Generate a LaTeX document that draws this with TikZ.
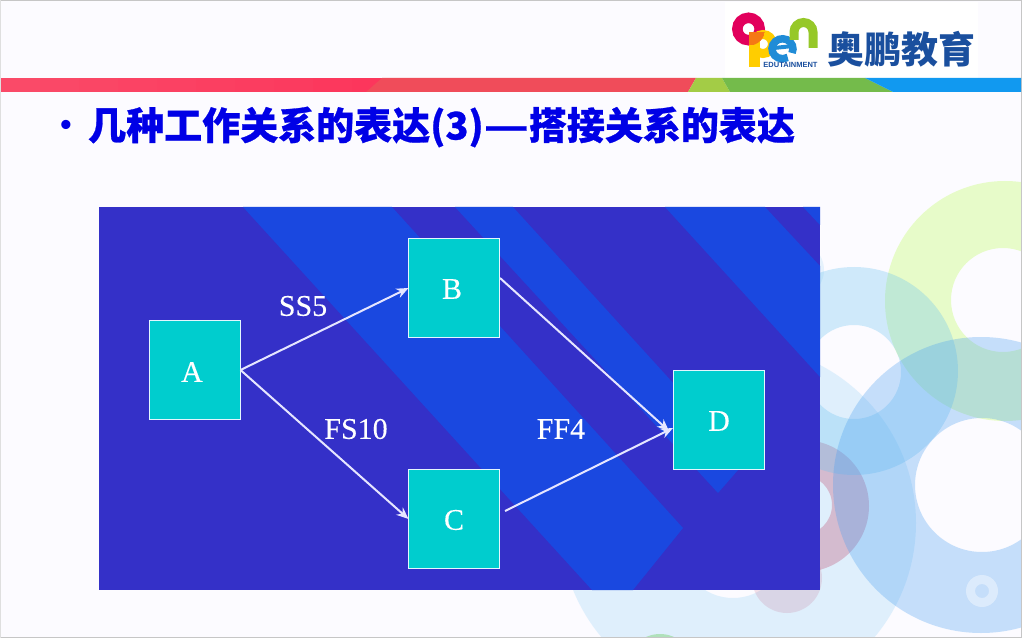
\documentclass[tikz,border=0pt]{standalone}
\usepackage{fontspec}
\setmainfont{Liberation Serif}[FakeBold=0.2]
\newfontfamily\cjkfont{Noto Sans CJK SC}
\newfontfamily\cjktitle{Noto Sans CJK SC}[BoldFeatures={FakeBold=0.7}]
\newfontfamily\logosans{Liberation Sans}
\usetikzlibrary{arrows.meta}
\definecolor{pagebg}{HTML}{FCFBFF}
\definecolor{darkband}{HTML}{3430C8}
\definecolor{lightband}{HTML}{1A48E0}
\definecolor{boxfill}{HTML}{00CDCE}
\definecolor{boxline}{HTML}{E4F6FF}
\definecolor{edgecol}{HTML}{E6E6FF}
\definecolor{titleblue}{HTML}{0000E6}
\definecolor{logoblue}{HTML}{1A4F9E}
\definecolor{palec}{RGB}{159,214,248}
\definecolor{lightc}{RGB}{105,194,241}
\definecolor{pinkc}{RGB}{189,68,105}
\definecolor{greenc}{RGB}{185,251,78}
\definecolor{bluec}{RGB}{72,158,241}
\definecolor{leafc}{RGB}{120,210,110}
\definecolor{barredA}{RGB}{252,54,92}
\definecolor{barredB}{RGB}{250,74,104}
\definecolor{barredC}{RGB}{240,76,90}
\definecolor{barlime}{RGB}{163,204,70}
\definecolor{bargreen}{RGB}{116,187,75}
\definecolor{barblue}{RGB}{17,153,240}
\definecolor{logored}{RGB}{226,0,92}
\definecolor{logoyellow}{RGB}{255,205,0}
\definecolor{logoorange}{RGB}{245,120,20}
\definecolor{logocyan}{RGB}{32,140,215}
\definecolor{logogreen}{RGB}{150,200,40}
\tikzset{
  ringg/.style={fill opacity=.3,even odd rule,draw=none},
  taskbox/.style={draw=boxline,fill=boxfill,line width=1.7pt,minimum width=91pt,minimum height=99pt,inner sep=0pt,outer sep=0pt,text=white,font=\fontsize{30}{32}\selectfont},
  lagtext/.style={text=white,inner sep=0pt,font=\fontsize{30}{32}\selectfont},
  link/.style={draw=edgecol,line width=2pt,-{Stealth[length=12pt,width=10pt]}},
  bandd/.style={fill=lightband,draw=none},
}
\begin{document}
\begin{tikzpicture}[x=1pt,y=-1pt]
\clip (0,0) rectangle (1023,639);
\fill[white] (0,0) rectangle (1023,639);
\fill[pagebg] (0,0) rectangle (1021,637);
% background circles
\begin{scope}
\clip (0,0) rectangle (1021,637);
\fill[ringg,fill=palec] (738,523) circle (178) (733,545) circle (53);
\fill[fill=lightc,fill opacity=.15] (795,270) circle (29);
\fill[ringg,fill=pinkc] (803,506) circle (66) (802,505) circle (30);
\fill[fill=pinkc,fill opacity=.15] (787,578) circle (35);
\fill[ringg,fill=greenc] (1005,301) circle (120) (1003,300) circle (52);
\fill[ringg,fill=lightc] (854,371) circle (104) (854,372) circle (47);
\fill[ringg,fill=bluec] (981,485) circle (148) (982,485) circle (67);
\fill[fill=leafc,fill opacity=.45] (660,668) circle (34);
\fill[white,fill opacity=.4,even odd rule] (982,591) circle (16) circle (7);
\end{scope}
% border
\draw[gray!45,line width=1.2pt] (0,.5) -- (1021.5,.5) -- (1021.5,637.5) -- (0,637.5);
\draw[gray!25,line width=1pt] (.5,0) -- (.5,638);
% header bar
\fill[white] (725,2) rectangle (978,78);
\foreach \s in {0,...,9}{
  \pgfmathsetmacro{\mixv}{100-\s*11}
  \fill[barredB!\mixv!barredA] (1+\s*39,78) rectangle (1+\s*39+39.5,92);
}
\fill[barredC] (382,78) -- (696,78) -- (688,92) -- (366,92) -- cycle;
\fill[barlime] (696,78) -- (722,78) -- (730,92) -- (688,92) -- cycle;
\fill[bargreen] (722,78) -- (865,78) -- (893,92) -- (730,92) -- cycle;
\fill[barblue] (865,78) -- (1021,78) -- (1021,92) -- (893,92) -- cycle;
% logo
\draw[logored,line width=10.5pt] (748.5,29) circle (11.2);
\fill[logoyellow] (749,34) rectangle (760,67);
\draw[logoyellow,line width=9pt] (763,44) circle (9.5);
\begin{scope}
\clip (748.5,29) circle (16.7);
\fill[logoorange] (749,32) rectangle (765,45);
\end{scope}
\draw[logocyan,line width=7.5pt] (792,53) arc (25:-300:10.5 and 10);
\draw[logocyan,line width=4pt] (774,48) -- (793,46);
\draw[logogreen,line width=9pt] (794,40) -- (794,32) arc (180:360:9.5) -- (813,48);
\node[inner sep=0pt,text=logoblue] (edut) at (790.5,64.5) {\logosans\bfseries\fontsize{7.5}{7.5}\selectfont EDUTAINMENT};
\node[inner sep=0pt,text=logoblue] (brand) at (901.5,49) {\cjkfont\bfseries\fontsize{37}{37}\selectfont 奥鹏教育};
% title
\node[inner sep=0pt,text=titleblue] (dot) at (66,128) {\logosans\bfseries\fontsize{32}{32}\selectfont •};
\node[inner sep=0pt,anchor=west,text=titleblue] (title) at (88,127) {\cjktitle\bfseries\fontsize{38}{38}\selectfont 几种工作关系的表达(3)\scalebox{1.3}[1]{—}搭接关系的表达};
% panel
\fill[darkband] (99,207) rectangle (820,590);
\begin{scope}
\clip (99,207) rectangle (820,590);
\fill[bandd] (243,207) -- (392,207) -- (683,528) -- (633,590) -- (592,590) -- cycle;
\fill[bandd] (455,207) -- (513,207) -- (745,462) -- (718,493) -- cycle;
\fill[bandd] (665,207) -- (765,207) -- (820,266) -- (820,377) -- cycle;
\fill[bandd] (803,207) -- (820,207) -- (820,225) -- cycle;
\end{scope}
% graph
\node[taskbox] (a) at (195,370) {\hspace*{-6pt}\raisebox{-2pt}[\height][\depth]{A}};
\node[taskbox] (b) at (454,288) {\hspace*{-4pt}\raisebox{-1pt}[\height][\depth]{B}};
\node[taskbox] (c) at (454,519) {\raisebox{-1pt}[\height][\depth]{C}};
\node[taskbox] (d) at (719,420) {\raisebox{-1pt}[\height][\depth]{D}};
\node[lagtext] (ss) at (303,306) {SS5};
\node[lagtext] (fs) at (356,429) {FS10};
\node[lagtext] (ff) at (561,429) {FF4};
\coordinate (bout) at (500,278);
\coordinate (cout) at (505,511);
\coordinate (din1) at (669,431);
\coordinate (din2) at (673,428);
\draw[link] (a.east) -- (b.west);
\draw[link] (a.east) -- (c.west);
\draw[link] (bout) -- (din1);
\draw[link] (cout) -- (din2);
\end{tikzpicture}
\end{document}
